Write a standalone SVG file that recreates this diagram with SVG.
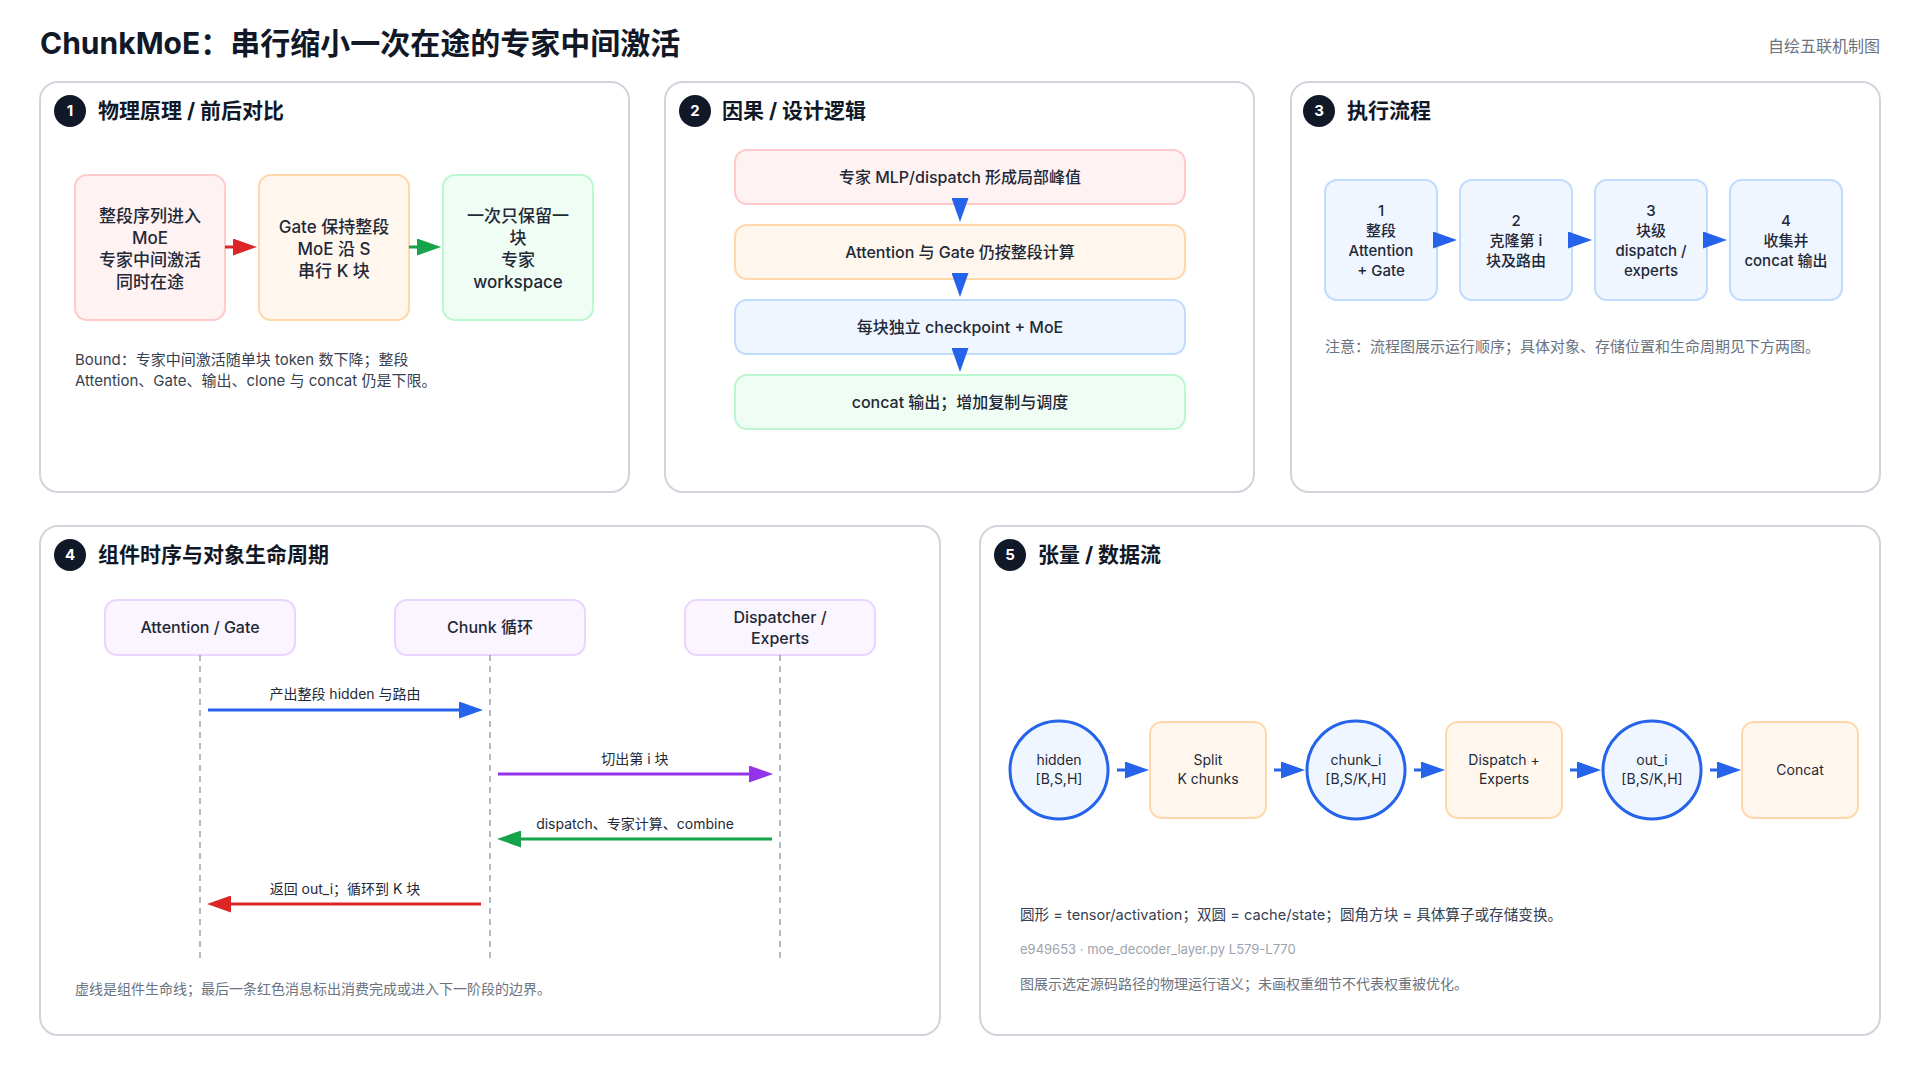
<svg xmlns="http://www.w3.org/2000/svg" width="1920" height="1080" viewBox="0 0 1920 1080">
<style>
text{font-family:"Inter","Liberation Sans","Noto Sans CJK SC",sans-serif;fill:#1f2937}
.title{font-size:30px;font-weight:bold;fill:#111827}
.tag{font-size:16px;fill:#6b7280;text-anchor:end}
.panel{fill:#ffffff;stroke:#d1d5db;stroke-width:2}
.badge{fill:#111827}
.bnum{font-size:15px;font-weight:bold;fill:#ffffff;text-anchor:middle}
.ptitle{font-size:21px;font-weight:bold;fill:#111827}
.red{fill:#fef2f2;stroke:#fecaca;stroke-width:2}
.org{fill:#fff7ed;stroke:#fed7aa;stroke-width:2}
.blu{fill:#eff6ff;stroke:#bfdbfe;stroke-width:2}
.grn{fill:#f0fdf4;stroke:#bbf7d0;stroke-width:2}
.pur{fill:#faf5ff;stroke:#e9d5ff;stroke-width:2}
.circ{fill:#eff6ff;stroke:#2563eb;stroke-width:3}
.t17{font-size:17px;text-anchor:middle;font-weight:500}
.t16{font-size:16px;text-anchor:middle;font-weight:500}
.t15{font-size:15px;text-anchor:middle;font-weight:500}
.t14{font-size:14px;text-anchor:middle}
.lbl{font-size:14px;text-anchor:middle}
.note{font-size:15px;fill:#374151}
.gray{font-size:15px;fill:#6b7280}
.gray14{font-size:14px;fill:#6b7280}
.light{font-size:13px;fill:#9ca3af}
.life{stroke:#9ca3af;stroke-width:1.5;stroke-dasharray:6 5;fill:none}
.c-blue{stroke:#2563eb;stroke-width:3;fill:none}
.c-red{stroke:#dc2626;stroke-width:3;fill:none}
.c-green{stroke:#16a34a;stroke-width:3;fill:none}
.c-purple{stroke:#9333ea;stroke-width:3;fill:none}
</style>
<defs>
<marker id="ah-blue" viewBox="0 0 24 17" markerWidth="24" markerHeight="17" refX="14" refY="8.5" orient="auto" markerUnits="userSpaceOnUse"><path d="M0,0 L24,8.5 L0,17 z" fill="#2563eb"/></marker>
<marker id="ah-red" viewBox="0 0 24 17" markerWidth="24" markerHeight="17" refX="14" refY="8.5" orient="auto" markerUnits="userSpaceOnUse"><path d="M0,0 L24,8.5 L0,17 z" fill="#dc2626"/></marker>
<marker id="ah-green" viewBox="0 0 24 17" markerWidth="24" markerHeight="17" refX="14" refY="8.5" orient="auto" markerUnits="userSpaceOnUse"><path d="M0,0 L24,8.5 L0,17 z" fill="#16a34a"/></marker>
<marker id="ah-purple" viewBox="0 0 24 17" markerWidth="24" markerHeight="17" refX="14" refY="8.5" orient="auto" markerUnits="userSpaceOnUse"><path d="M0,0 L24,8.5 L0,17 z" fill="#9333ea"/></marker>
</defs>
<rect width="1920" height="1080" fill="#ffffff"/>
<text class="title" x="40" y="54">ChunkMoE：串行缩小一次在途的专家中间激活</text>
<text class="tag" x="1880" y="52">自绘五联机制图</text>

<!-- Panels -->
<g id="panel1">
<rect class="panel" x="40" y="82" width="589" height="410" rx="18"/>
<circle class="badge" cx="70" cy="111" r="16"/><text class="bnum" x="70" y="116">1</text>
<text class="ptitle" x="98" y="118">物理原理 / 前后对比</text>
</g>
<g id="panel2">
<rect class="panel" x="665" y="82" width="589" height="410" rx="18"/>
<circle class="badge" cx="695" cy="111" r="16"/><text class="bnum" x="695" y="116">2</text>
<text class="ptitle" x="722" y="118">因果 / 设计逻辑</text>
</g>
<g id="panel3">
<rect class="panel" x="1291" y="82" width="589" height="410" rx="18"/>
<circle class="badge" cx="1319" cy="111" r="16"/><text class="bnum" x="1319" y="116">3</text>
<text class="ptitle" x="1347" y="118">执行流程</text>
</g>
<g id="panel4">
<rect class="panel" x="40" y="526" width="900" height="509" rx="18"/>
<circle class="badge" cx="70" cy="555" r="16"/><text class="bnum" x="70" y="560">4</text>
<text class="ptitle" x="98" y="562">组件时序与对象生命周期</text>
</g>
<g id="panel5">
<rect class="panel" x="980" y="526" width="900" height="509" rx="18"/>
<circle class="badge" cx="1010" cy="555" r="16"/><text class="bnum" x="1010" y="560">5</text>
<text class="ptitle" x="1038" y="562">张量 / 数据流</text>
</g>

<!-- Panel 1 nodes -->
<g id="p1-whole">
<rect class="red" x="75" y="175" width="150" height="145" rx="12"/>
<text class="t17" x="150" y="222">整段序列进入</text>
<text class="t17" x="150" y="244">MoE</text>
<text class="t17" x="150" y="266">专家中间激活</text>
<text class="t17" x="150" y="288">同时在途</text>
</g>
<g id="p1-gate">
<rect class="org" x="259" y="175" width="150" height="145" rx="12"/>
<text class="t17" x="334" y="233">Gate 保持整段</text>
<text class="t17" x="334" y="255">MoE 沿 S</text>
<text class="t17" x="334" y="277">串行 K 块</text>
</g>
<g id="p1-one">
<rect class="grn" x="443" y="175" width="150" height="145" rx="12"/>
<text class="t17" x="518" y="222">一次只保留一</text>
<text class="t17" x="518" y="244">块</text>
<text class="t17" x="518" y="266">专家</text>
<text class="t17" x="518" y="288">workspace</text>
</g>
<text class="note" x="75" y="365">Bound：专家中间激活随单块 token 数下降；整段</text>
<text class="note" x="75" y="386">Attention、Gate、输出、clone 与 concat 仍是下限。</text>

<!-- Panel 2 nodes -->
<g id="p2-peak"><rect class="red" x="735" y="150" width="450" height="54" rx="12"/><text class="t16" x="960" y="183">专家 MLP/dispatch 形成局部峰值</text></g>
<g id="p2-attn"><rect class="org" x="735" y="225" width="450" height="54" rx="12"/><text class="t16" x="960" y="258">Attention 与 Gate 仍按整段计算</text></g>
<g id="p2-ckpt"><rect class="blu" x="735" y="300" width="450" height="54" rx="12"/><text class="t16" x="960" y="333">每块独立 checkpoint + MoE</text></g>
<g id="p2-concat"><rect class="grn" x="735" y="375" width="450" height="54" rx="12"/><text class="t16" x="960" y="408">concat 输出；增加复制与调度</text></g>

<!-- Panel 3 nodes -->
<g id="p3-s1"><rect class="blu" x="1325" y="180" width="112" height="120" rx="12"/>
<text class="t15" x="1381" y="216">1</text><text class="t15" x="1381" y="236">整段</text><text class="t15" x="1381" y="256">Attention</text><text class="t15" x="1381" y="276">+ Gate</text></g>
<g id="p3-s2"><rect class="blu" x="1460" y="180" width="112" height="120" rx="12"/>
<text class="t15" x="1516" y="226">2</text><text class="t15" x="1516" y="246">克隆第 i</text><text class="t15" x="1516" y="266">块及路由</text></g>
<g id="p3-s3"><rect class="blu" x="1595" y="180" width="112" height="120" rx="12"/>
<text class="t15" x="1651" y="216">3</text><text class="t15" x="1651" y="236">块级</text><text class="t15" x="1651" y="256">dispatch /</text><text class="t15" x="1651" y="276">experts</text></g>
<g id="p3-s4"><rect class="blu" x="1730" y="180" width="112" height="120" rx="12"/>
<text class="t15" x="1786" y="226">4</text><text class="t15" x="1786" y="246">收集并</text><text class="t15" x="1786" y="266">concat 输出</text></g>
<text class="gray" x="1325" y="352">注意：流程图展示运行顺序；具体对象、存储位置和生命周期见下方两图。</text>

<!-- Panel 4 nodes -->
<g id="p4-attn"><rect class="pur" x="105" y="600" width="190" height="55" rx="12"/><text class="t16" x="200" y="633">Attention / Gate</text></g>
<g id="p4-chunk"><rect class="pur" x="395" y="600" width="190" height="55" rx="12"/><text class="t16" x="490" y="633">Chunk 循环</text></g>
<g id="p4-disp"><rect class="pur" x="685" y="600" width="190" height="55" rx="12"/><text class="t16" x="780" y="623">Dispatcher /</text><text class="t16" x="780" y="644">Experts</text></g>
<text class="gray14" x="75" y="994">虚线是组件生命线；最后一条红色消息标出消费完成或进入下一阶段的边界。</text>

<!-- Panel 5 nodes -->
<g id="p5-hidden"><circle class="circ" cx="1059" cy="770" r="49"/><text class="t14" x="1059" y="765">hidden</text><text class="t14" x="1059" y="784">[B,S,H]</text></g>
<g id="p5-split"><rect class="org" x="1150" y="722" width="116" height="96" rx="12"/><text class="t14" x="1208" y="765">Split</text><text class="t14" x="1208" y="784">K chunks</text></g>
<g id="p5-chunk"><circle class="circ" cx="1356" cy="770" r="49"/><text class="t14" x="1356" y="765">chunk_i</text><text class="t14" x="1356" y="784">[B,S/K,H]</text></g>
<g id="p5-dispatch"><rect class="org" x="1446" y="722" width="116" height="96" rx="12"/><text class="t14" x="1504" y="765">Dispatch +</text><text class="t14" x="1504" y="784">Experts</text></g>
<g id="p5-out"><circle class="circ" cx="1652" cy="770" r="49"/><text class="t14" x="1652" y="765">out_i</text><text class="t14" x="1652" y="784">[B,S/K,H]</text></g>
<g id="p5-concat"><rect class="org" x="1742" y="722" width="116" height="96" rx="12"/><text class="t14" x="1800" y="775">Concat</text></g>
<text class="note" x="1020" y="920" style="font-size:14.6px">圆形 = tensor/activation；双圆 = cache/state；圆角方块 = 具体算子或存储变换。</text>
<text class="light" x="1020" y="954">e949653 · moe_decoder_layer.py L579-L770</text>
<text class="gray14" x="1020" y="989">图展示选定源码路径的物理运行语义；未画权重细节不代表权重被优化。</text>

<!-- Connectors -->
<g id="connectors">
<line class="c-red" x1="225" y1="247" x2="247" y2="247" marker-end="url(#ah-red)"/>
<line class="c-green" x1="409" y1="247" x2="431" y2="247" marker-end="url(#ah-green)"/>

<line class="c-blue" x1="960" y1="199" x2="960" y2="212" marker-end="url(#ah-blue)"/>
<line class="c-blue" x1="960" y1="274" x2="960" y2="287" marker-end="url(#ah-blue)"/>
<line class="c-blue" x1="960" y1="349" x2="960" y2="362" marker-end="url(#ah-blue)"/>

<line class="c-blue" x1="1435" y1="240" x2="1447" y2="240" marker-end="url(#ah-blue)"/>
<line class="c-blue" x1="1570" y1="240" x2="1582" y2="240" marker-end="url(#ah-blue)"/>
<line class="c-blue" x1="1705" y1="240" x2="1717" y2="240" marker-end="url(#ah-blue)"/>

<line class="life" x1="200" y1="655" x2="200" y2="961"/>
<line class="life" x1="490" y1="655" x2="490" y2="961"/>
<line class="life" x1="780" y1="655" x2="780" y2="961"/>

<line class="c-blue" x1="208" y1="710" x2="473" y2="710" marker-end="url(#ah-blue)"/>
<text class="lbl" x="345" y="699">产出整段 hidden 与路由</text>
<line class="c-purple" x1="498" y1="774" x2="763" y2="774" marker-end="url(#ah-purple)"/>
<text class="lbl" x="635" y="764">切出第 i 块</text>
<line class="c-green" x1="772" y1="839" x2="507" y2="839" marker-end="url(#ah-green)"/>
<text class="lbl" x="635" y="829">dispatch、专家计算、combine</text>
<line class="c-red" x1="481" y1="904" x2="217" y2="904" marker-end="url(#ah-red)"/>
<text class="lbl" x="345" y="894">返回 out_i；循环到 K 块</text>

<line class="c-blue" x1="1117" y1="770" x2="1139" y2="770" marker-end="url(#ah-blue)"/>
<line class="c-blue" x1="1274" y1="770" x2="1295" y2="770" marker-end="url(#ah-blue)"/>
<line class="c-blue" x1="1414" y1="770" x2="1435" y2="770" marker-end="url(#ah-blue)"/>
<line class="c-blue" x1="1570" y1="770" x2="1591" y2="770" marker-end="url(#ah-blue)"/>
<line class="c-blue" x1="1710" y1="770" x2="1731" y2="770" marker-end="url(#ah-blue)"/>
</g>
</svg>
